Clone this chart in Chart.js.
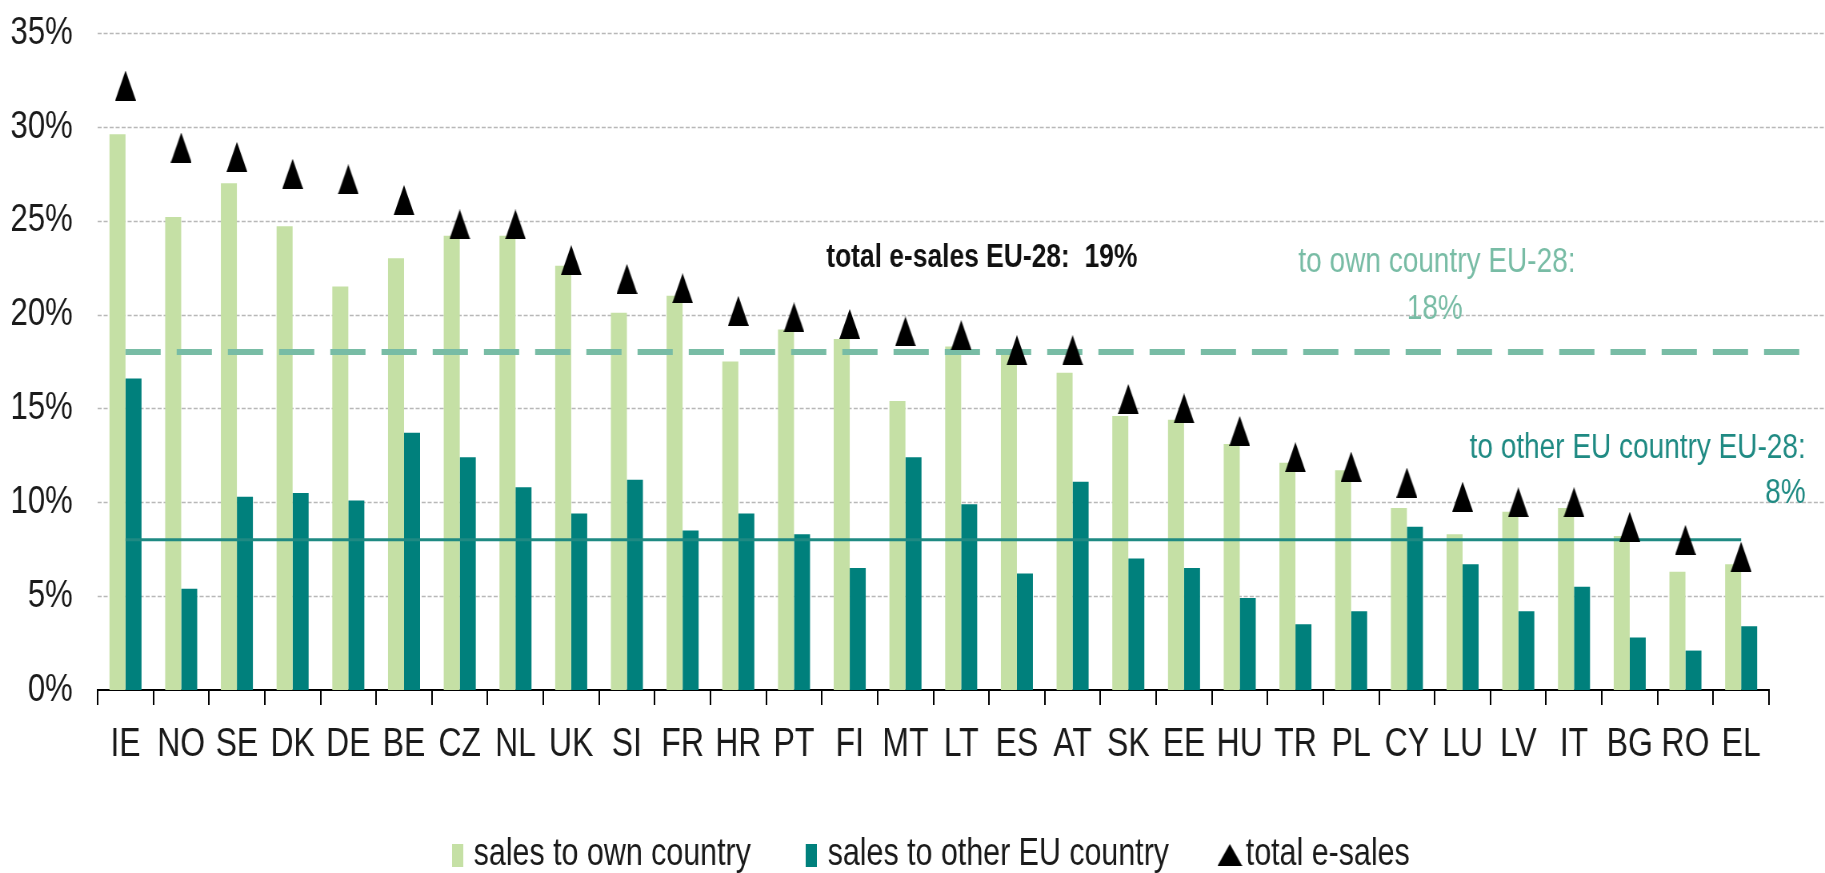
<!DOCTYPE html>
<html>
<head>
<meta charset="utf-8">
<script src="https://cdn.jsdelivr.net/npm/chart.js@4.4.1/dist/chart.umd.min.js"></script>
<style>
  html, body { margin: 0; padding: 0; background: #fff; overflow: hidden; }
  #esales { display: block; }
</style>
</head>
<body>
<!-- drawn 2281 wide and squeezed to 1825 so the text gets the narrow look of the original -->
<canvas id="esales" width="2281" height="873" style="width:1825px;height:873px"></canvas>
<script>
// Enterprises' e-sales as % of turnover, by destination
var countries = ['IE', 'NO', 'SE', 'DK', 'DE', 'BE', 'CZ', 'NL', 'UK', 'SI', 'FR', 'HR', 'PT', 'FI', 'MT',
                 'LT', 'ES', 'AT', 'SK', 'EE', 'HU', 'TR', 'PL', 'CY', 'LU', 'LV', 'IT', 'BG', 'RO', 'EL'];

var ownCountry = [29.6, 25.2, 27.0, 24.7, 21.5, 23.0, 24.2, 24.2, 22.6, 20.1, 21.0, 17.5, 19.2, 18.7, 15.4,
                  18.3, 17.9, 16.9, 14.6, 14.4, 13.1, 12.1, 11.7, 9.7, 8.3, 9.5, 9.7, 8.2, 6.3, 6.7];

var otherEU = [16.6, 5.4, 10.3, 10.5, 10.1, 13.7, 12.4, 10.8, 9.4, 11.2, 8.5, 9.4, 8.3, 6.5, 12.4,
               9.9, 6.2, 11.1, 7.0, 6.5, 4.9, 3.5, 4.2, 8.7, 6.7, 4.2, 5.5, 2.8, 2.1, 3.4];

var totalSales = [32.2, 28.9, 28.4, 27.5, 27.2, 26.1, 24.8, 24.8, 22.9, 21.9, 21.4, 20.2, 19.85, 19.5, 19.1,
                  18.9, 18.1, 18.1, 15.5, 15.0, 13.8, 12.4, 11.9, 11.05, 10.3, 10.0, 10.0, 8.7, 8.0, 7.1];

// EU-28 averages
var euOwn = 18;
var euOther = 8;
var euTotal = 19;

var seriesNames = ['sales to own country', 'sales to other EU country', 'total e-sales'];

var FONT = "'Liberation Sans', Arial, sans-serif";
var GREEN = '#c5e0a5';
var TEAL = '#00807c';
var OWN_LINE = '#78bca5';
var OTHER_LINE = '#1f8a83';

// little canvases used as point styles (triangle marker, legend boxes)
function makeTriangle(w, h) {
    var c = document.createElement('canvas');
    c.width = w; c.height = h;
    var g = c.getContext('2d');
    g.fillStyle = '#000';
    g.beginPath();
    g.moveTo(w / 2, 0);
    g.lineTo(w, h);
    g.lineTo(0, h);
    g.closePath();
    g.fill();
    return c;
}
function makeBox(w, h, color) {
    var c = document.createElement('canvas');
    c.width = w; c.height = h;
    var g = c.getContext('2d');
    g.fillStyle = color;
    g.fillRect(0, 0, w, h);
    return c;
}
var triMarker = makeTriangle(26, 30);
var legendStyles = [makeBox(14, 23, GREEN), makeBox(14, 23, TEAL), makeTriangle(31, 22)];

// dotted grid lines running to the right edge, EU average lines, text notes
var extras = {
    id: 'extras',
    beforeDatasetsDraw: function (chart) {
        var ctx = chart.ctx, y = chart.scales.y, area = chart.chartArea;
        ctx.save();
        ctx.strokeStyle = '#b8b8b8';
        ctx.lineWidth = 1.5;
        ctx.setLineDash([5, 2.5]);
        y.ticks.forEach(function (t) {
            if (t.value === 0) return;
            var py = Math.round(y.getPixelForValue(t.value)) + 0.5;
            ctx.beginPath();
            ctx.moveTo(area.left, py);
            ctx.lineTo(chart.width, py);
            ctx.stroke();
        });
        ctx.restore();
    },
    beforeDatasetDraw: function (chart, args) {
        if (args.index !== 2) return;
        var ctx = chart.ctx, x = chart.scales.x, y = chart.scales.y;
        var x0 = x.getPixelForValue(0);
        var x1 = x.getPixelForValue(countries.length - 1);
        ctx.save();
        // own country average, dashed
        ctx.strokeStyle = OWN_LINE;
        ctx.lineWidth = 6;
        ctx.setLineDash([44, 20]);
        ctx.beginPath();
        ctx.moveTo(x0, y.getPixelForValue(euOwn));
        ctx.lineTo(x.right + 41, y.getPixelForValue(euOwn));
        ctx.stroke();
        // other EU country average, solid
        ctx.setLineDash([]);
        ctx.strokeStyle = OTHER_LINE;
        ctx.lineWidth = 3;
        ctx.beginPath();
        ctx.moveTo(x0, y.getPixelForValue(euOther));
        ctx.lineTo(x1, y.getPixelForValue(euOther));
        ctx.stroke();
        ctx.restore();
    },
    afterDraw: function (chart) {
        var ctx = chart.ctx, x = chart.scales.x, y = chart.scales.y;
        ctx.save();
        ctx.textBaseline = 'middle';
        ctx.textAlign = 'center';
        ctx.fillStyle = '#111';
        ctx.font = 'bold 33px ' + FONT;
        ctx.fillText('total e-sales EU-28:  ' + euTotal + '%', x.getPixelForValue(15.37), y.getPixelForValue(23.0));

        ctx.font = '35px ' + FONT;
        ctx.fillStyle = OWN_LINE;
        ctx.fillText('to own country EU-28:', x.getPixelForValue(23.54), y.getPixelForValue(22.8));
        ctx.fillText(euOwn + '%', x.getPixelForValue(23.5), y.getPixelForValue(20.3));

        ctx.textAlign = 'right';
        ctx.fillStyle = OTHER_LINE;
        ctx.fillText('to other EU country EU-28:', x.getPixelForValue(30.16), y.getPixelForValue(12.9));
        ctx.fillText(euOther + '%', x.getPixelForValue(30.16), y.getPixelForValue(10.5));
        ctx.restore();
    }
};

var ctx = document.getElementById('esales').getContext('2d');

var esalesChart = new Chart(ctx, {
    type: 'bar',
    data: {
        labels: countries,
        datasets: [{
            label: seriesNames[0],
            data: ownCountry,
            backgroundColor: GREEN,
            categoryPercentage: 0.575,
            barPercentage: 1.0,
            order: 1
        }, {
            label: seriesNames[1],
            data: otherEU,
            backgroundColor: TEAL,
            categoryPercentage: 0.575,
            barPercentage: 1.0,
            order: 1
        }, {
            type: 'line',
            label: seriesNames[2],
            data: totalSales,
            showLine: false,
            pointStyle: triMarker,
            pointRadius: 12,
            backgroundColor: '#000',
            borderColor: '#000',
            order: 0
        }]
    },
    options: {
        responsive: false,
        animation: false,
        layout: {
            padding: { top: 33, right: 70, bottom: -11, left: 0 }
        },
        scales: {
            x: {
                offset: true,
                grid: {
                    display: true,
                    drawOnChartArea: false,
                    drawTicks: true,
                    tickLength: 15,
                    color: '#000',
                    lineWidth: 2
                },
                border: { display: true, color: '#000', width: 2 },
                ticks: {
                    autoSkip: false,
                    maxRotation: 0,
                    padding: 16,
                    color: '#1a1a1a',
                    font: { family: FONT, size: 40 }
                },
                afterFit: function (scale) { scale.height = 71; }
            },
            y: {
                min: 0,
                max: 35,
                grid: { display: false, drawTicks: true, tickLength: 31 },
                border: { display: false },
                ticks: {
                    stepSize: 5,
                    padding: 0,
                    color: '#1a1a1a',
                    font: { family: FONT, size: 39 },
                    callback: function (v) { return v + '%'; }
                },
                afterFit: function (scale) { scale.width = 122; }
            }
        },
        plugins: {
            legend: {
                position: 'bottom',
                fullSize: false,
                labels: {
                    usePointStyle: true,
                    pointStyleWidth: 2,
                    padding: 75,
                    color: '#1a1a1a',
                    font: { family: FONT, size: 38 },
                    sort: function (a, b) { return a.datasetIndex - b.datasetIndex; },
                    generateLabels: function (chart) {
                        var items = Chart.defaults.plugins.legend.labels.generateLabels(chart);
                        items.forEach(function (it) { it.pointStyle = legendStyles[it.datasetIndex]; });
                        return items;
                    }
                }
            },
            tooltip: { enabled: false }
        }
    },
    plugins: [extras]
});
</script>
</body>
</html>
